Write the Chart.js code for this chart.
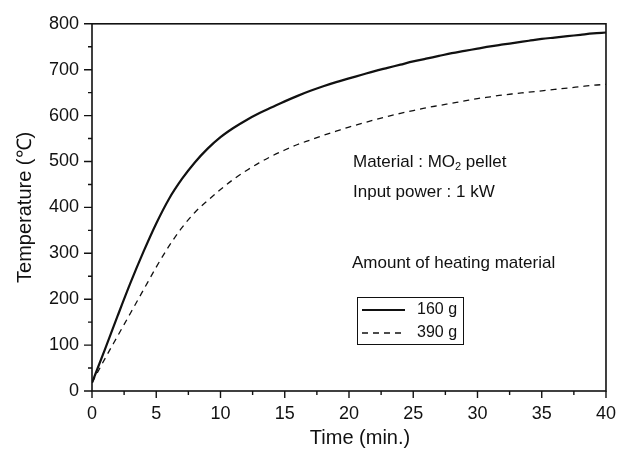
<!DOCTYPE html>
<html>
<head>
<meta charset="utf-8">
<script src="https://cdn.jsdelivr.net/npm/chart.js@4.4.1/dist/chart.umd.min.js"></script>
<style>
  html, body { margin: 0; padding: 0; background: #fff; }
  #wrap { width: 628px; height: 459px; }
</style>
</head>
<body>
<div id="wrap"><canvas id="c" width="628" height="459"></canvas></div>
<script>
// ---- data ----
const minutes = [0,1,2,3,4,5,6,7,8,9,10,11,12,13,14,15,16,17,18,19,20,21,22,23,24,25,26,27,28,29,30,31,32,33,34,35,36,37,38,39,40];
const temp160g = [18,90,164,236,303,365,419,462,498,528,553,573,590,605,618,631,643,654,664,673,681,689,697,704,711,718,724,730,736,741,746,751,755,759,763,767,770,773,776,779,781];
const temp390g = [18,70,120,170,220,270,316,356,389,415,439,461,480,497,512,525,537,547,557,566,575,583,591,598,605,611,617,622,627,632,637,641,645,648,651,654,657,660,663,666,668];
const seriesLabels = ['160 g', '390 g'];
const xTickValues = [0,5,10,15,20,25,30,35,40];
const xMinorValues = [2.5,7.5,12.5,17.5,22.5,27.5,32.5,37.5];
const yTickValues = [0,100,200,300,400,500,600,700,800];
const yMinorValues = [50,150,250,350,450,550,650,750];
const xTitle = 'Time (min.)';
const yTitle = 'Temperature (℃)';
const noteLines = ['Input power : 1 kW', 'Amount of heating material'];

const FONT = '"Liberation Sans", Arial, Helvetica, sans-serif';
const INK = '#111';

const framePlugin = {
  id: 'frame',
  afterDatasetsDraw(chart) {
    const {ctx, chartArea: a, scales: {x, y}} = chart;
    ctx.save();
    ctx.strokeStyle = INK;
    ctx.lineWidth = 1.6;
    ctx.strokeRect(a.left, a.top, a.right - a.left, a.bottom - a.top);
    // ticks
    ctx.lineWidth = 1.4;
    ctx.beginPath();
    xTickValues.forEach(v => { const p = x.getPixelForValue(v); ctx.moveTo(p, a.bottom); ctx.lineTo(p, a.bottom + 7); });
    xMinorValues.forEach(v => { const p = x.getPixelForValue(v); ctx.moveTo(p, a.bottom); ctx.lineTo(p, a.bottom + 4); });
    yTickValues.forEach(v => { const p = y.getPixelForValue(v); ctx.moveTo(a.left, p); ctx.lineTo(a.left - 8, p); });
    yMinorValues.forEach(v => { const p = y.getPixelForValue(v); ctx.moveTo(a.left, p); ctx.lineTo(a.left - 4, p); });
    ctx.stroke();

    // x title
    ctx.fillStyle = INK;
    ctx.font = '20px ' + FONT;
    ctx.textAlign = 'center';
    ctx.textBaseline = 'middle';
    ctx.fillText(xTitle, (a.left + a.right) / 2 + 11, 438);

    // annotations
    ctx.font = '17px ' + FONT;
    ctx.textAlign = 'left';
    let tx = 353;
    ctx.fillText('Material : MO', tx, 162);
    tx += ctx.measureText('Material : MO').width;
    ctx.font = '11px ' + FONT;
    ctx.fillText('2', tx, 167);
    tx += ctx.measureText('2').width;
    ctx.font = '17px ' + FONT;
    ctx.fillText(' pellet', tx, 162);
    ctx.fillText(noteLines[0], 353, 192);
    ctx.fillText(noteLines[1], 352, 263);

    // legend box
    ctx.lineWidth = 1;
    ctx.strokeRect(357.5, 297.5, 106, 47);
    const rows = [310, 333];
    chart.data.datasets.forEach((ds, i) => {
      ctx.save();
      ctx.strokeStyle = ds.borderColor;
      ctx.lineWidth = ds.borderWidth;
      ctx.setLineDash(ds.borderDash || []);
      ctx.beginPath();
      ctx.moveTo(362, rows[i]);
      ctx.lineTo(405, rows[i]);
      ctx.stroke();
      ctx.restore();
      ctx.font = '16px ' + FONT;
      ctx.fillText(ds.label, 417, rows[i]);
    });
    ctx.restore();
  }
};

new Chart(document.getElementById('c'), {
  type: 'line',
  data: {
    datasets: [
      { label: seriesLabels[0], data: minutes.map((m, i) => ({x: m, y: temp160g[i]})),
        borderColor: INK, borderWidth: 2.2, pointRadius: 0, cubicInterpolationMode: 'monotone', fill: false },
      { label: seriesLabels[1], data: minutes.map((m, i) => ({x: m, y: temp390g[i]})),
        borderColor: INK, borderWidth: 1.3, borderDash: [6, 5], pointRadius: 0, cubicInterpolationMode: 'monotone', fill: false }
    ]
  },
  options: {
    responsive: false,
    animation: false,
    events: [],
    layout: { padding: { top: 17, right: 21, left: 0, bottom: 0 } },
    plugins: { legend: { display: false }, tooltip: { enabled: false }, title: { display: false } },
    scales: {
      x: {
        type: 'linear', min: 0, max: 40,
        afterBuildTicks: s => { s.ticks = xTickValues.map(v => ({value: v})); },
        afterFit: s => { s.height = 68; },
        grid: { drawOnChartArea: false, drawTicks: false },
        border: { display: false },
        ticks: { color: INK, padding: 12, maxRotation: 0, font: { family: FONT, size: 18 } },
        title: { display: false }
      },
      y: {
        type: 'linear', min: 0, max: 800,
        afterBuildTicks: s => { s.ticks = yTickValues.map(v => ({value: v})); },
        afterFit: s => { s.width = 92; },
        grid: { drawOnChartArea: false, drawTicks: false },
        border: { display: false },
        ticks: { color: INK, padding: 13, font: { family: FONT, size: 18 } },
        title: { display: true, text: yTitle, color: INK, font: { family: FONT, size: 20 }, padding: { top: 13, bottom: 0 } }
      }
    }
  },
  plugins: [framePlugin]
});
</script>
</body>
</html>
